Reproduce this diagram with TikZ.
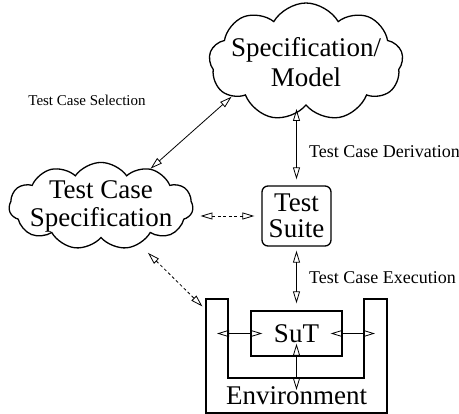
\documentclass[tikz,border=0pt]{standalone}
\usepackage{fontspec}
\setmainfont{Liberation Serif}
\usetikzlibrary{positioning,calc,shapes.symbols,arrows.meta}

\begin{document}
\begin{tikzpicture}[x=1pt,y=-1pt,
		bigtext/.style={font=\fontsize{27}{28}\selectfont, align=center},
		smalltext/.style={font=\fontsize{18}{20}\selectfont, inner sep=0pt},
		cloudbox/.style={cloud, cloud ignores aspect, draw, line width=1.3pt, bigtext, inner xsep=-30pt, inner ysep=0pt},
		boxed/.style={draw, line width=1.3pt, bigtext, inner sep=2pt},
		tipped/.style={{Triangle[open,length=12pt,width=7pt]}-{Triangle[open,length=12pt,width=7pt]}, line width=0.8pt},
		dotline/.style={dash pattern=on 3pt off 2.5pt}]
		\useasboundingbox (0,0) rectangle (459,414);

		\node[cloudbox, cloud puffs=9, cloud puff arc=120, minimum width=194pt, minimum height=118pt,
			font=\fontsize{27}{30}\selectfont] (spec) at (306,62) {Specification/\\Model};
		\node[cloudbox, cloud puffs=11, cloud puff arc=110, minimum width=184pt, minimum height=84pt] (tcs) at (101,206) {Test Case\\Specification};
		\node[boxed, rounded corners=6pt, minimum width=69pt, minimum height=60pt,
			font=\fontsize{27}{26}\selectfont] (suite) at (296.5,216) {Test\\Suite};
		\node[boxed, minimum width=91pt, minimum height=45pt] (sut) at (296.5,333.5) {SuT};

		% the environment wraps round the SuT
		\draw[line width=1.3pt] (206,299) -- (206,413) -- (387,413) -- (387,299) -- (364,299) -- (364,378) -- (228,378) -- (228,299) -- cycle;
		\node[bigtext] (env) at (296.5,396) {Environment};
		\coordinate (wallL) at (228,333.5);
		\coordinate (wallR) at (364,333.5);
		\coordinate (floor) at (296.5,378);
		\coordinate (envW) at (206,310);

		\draw[tipped, shorten <=-12pt, shorten >=-11pt] (sut.west) -- (wallL);
		\draw[tipped, shorten <=-12pt, shorten >=-11pt] (sut.east) -- (wallR);
		\draw[tipped, shorten <=-13pt, shorten >=-12pt] (sut.south) -- (floor);

		\draw[tipped, shorten <=3pt, shorten >=6pt] (suite.north |- spec.south) -- (suite.north);
		\draw[tipped, shorten <=4pt, shorten >=7pt] (suite.south) -- (sut.north);
		\draw[tipped, dotline, shorten <=7pt, shorten >=7pt] (tcs.east |- suite.west) -- (suite.west);
		\draw[tipped, dotline, shorten <=12pt, shorten >=5pt] (tcs.-45) -- (envW);
		\draw[tipped] (tcs.37) -- (spec.205);

		\node[smalltext, anchor=west] (derive) at (309,152) {Test Case Derivation};
		\node[smalltext, anchor=west] (exec) at (309,278) {Test Case Execution};
		\node[smalltext, font=\fontsize{15}{17}\selectfont] (select) at (87,100) {Test Case Selection};
	\end{tikzpicture}
\end{document}
